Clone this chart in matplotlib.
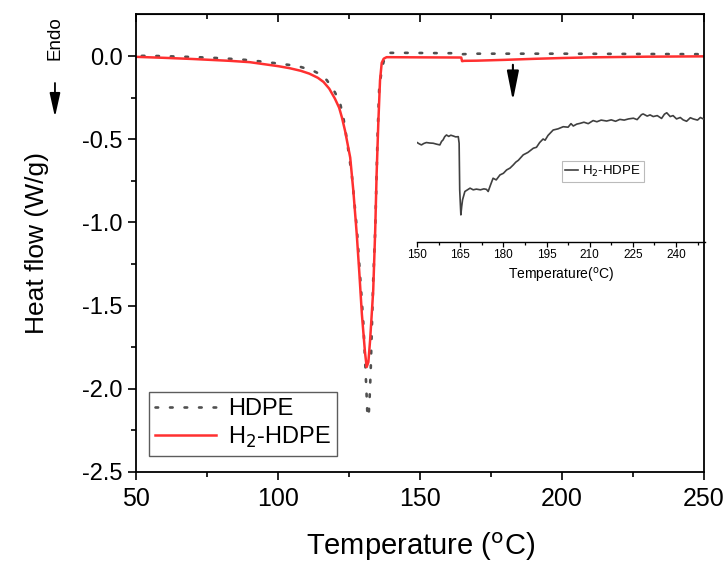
import numpy as np
import matplotlib
matplotlib.use("Agg")
import matplotlib.pyplot as plt

plt.rcParams['font.family'] = ['Liberation Sans', 'DejaVu Sans']
plt.rcParams['axes.unicode_minus'] = False

# main DSC curves (temperature in degC, heat flow in W/g)
hdpe_t = [52, 55, 60, 70, 80, 90, 100, 105, 108, 112, 115, 117.2, 120, 121.8, 123,
          124.2, 126, 127.7, 129, 130, 130.7, 131.2, 131.5, 131.9, 132.2, 132.6, 133,
          133.5, 134.2, 135, 135.6, 136.5, 137.5, 138.7, 145, 160, 164, 165, 170, 200, 250]
hdpe_q = [0.002, 0.002, 0.0, -0.005, -0.012, -0.024, -0.044, -0.055, -0.065, -0.085,
          -0.11, -0.145, -0.217, -0.28, -0.37, -0.5, -0.72, -1.03, -1.35, -1.6, -1.85,
          -2.05, -2.17, -2.16, -2.07, -1.9, -1.65, -1.35, -1.05, -0.5, -0.2, -0.08,
          -0.01, 0.02, 0.02, 0.018, 0.018, 0.012, 0.015, 0.015, 0.012]

h2_t = [50, 60, 70, 83, 90, 100, 104, 108, 111, 114, 116, 118, 120, 121.5, 122.5,
        123.6, 125.4, 126.5, 127.7, 128.6, 129.5, 130.6, 131.2, 131.8, 132.4, 133.5,
        134.2, 134.7, 135.3, 135.9, 136.5, 137.2, 138.2, 150, 164.5, 164.8, 165.5, 170,
        180, 190, 200, 210, 230, 250]
h2_q = [-0.004, -0.01, -0.017, -0.028, -0.036, -0.06, -0.072, -0.088, -0.105, -0.13,
        -0.155, -0.195, -0.255, -0.31, -0.37, -0.45, -0.61, -0.81, -1.07, -1.3, -1.55,
        -1.78, -1.87, -1.84, -1.71, -1.41, -1.05, -0.71, -0.4, -0.145, -0.04, -0.015,
        -0.006, -0.007, -0.008, -0.03, -0.028, -0.027, -0.022, -0.016, -0.011,
        -0.007, -0.003, -0.001]

# inset: H2-HDPE zoomed in, 150-250 degC
ins_t = [150.0, 150.8, 151.5, 152.3, 153.2, 154.4, 155.6, 156.8, 157.9, 158.5, 159.0,
         159.6, 160.2, 161.0, 161.7, 162.5, 163.4, 164.3, 164.6, 164.8, 165.2, 165.5,
         165.8, 166.6, 167.5, 168.4, 169.5, 170.6, 172.0, 173.2, 174.1, 174.7, 175.5,
         176.4, 177.5, 178.8, 180.0, 181.1, 182.3, 183.4, 184.3, 185.2, 186.9, 188.5,
         190.4, 191.5, 192.6, 193.8, 194.5, 195.5, 197.3, 199.0, 200.8, 202.5, 203.5,
         204.3, 205.5, 206.6, 208.0, 209.5, 211.2, 212.5, 214.0, 215.9, 217.5, 219.0,
         220.5, 222.0, 223.5, 225.2, 226.5, 228.0, 228.6, 230.0, 231.0, 232.1, 233.5,
         235.0, 236.0, 236.8, 238.0, 239.0, 240.2, 241.5, 242.5, 243.7, 245.0, 246.0,
         247.5, 248.5, 249.5]
ins_q = [-0.0180, -0.0186, -0.0190, -0.0184, -0.0180, -0.0182, -0.0183, -0.0187,
         -0.0190, -0.0175, -0.0169, -0.0155, -0.0148, -0.0154, -0.0149, -0.0152,
         -0.0156, -0.0155, -0.0183, -0.0380, -0.0486, -0.0450, -0.0422, -0.0387,
         -0.0380, -0.0373, -0.0380, -0.0377, -0.0380, -0.0376, -0.0378, -0.0387,
         -0.0360, -0.0331, -0.0338, -0.0317, -0.0310, -0.0296, -0.0288, -0.0275,
         -0.0263, -0.0255, -0.0232, -0.0222, -0.0204, -0.0200, -0.0180, -0.0165,
         -0.0170, -0.0150, -0.0127, -0.0122, -0.0113, -0.0115, -0.0100, -0.0110,
         -0.0102, -0.0099, -0.0094, -0.0100, -0.0087, -0.0092, -0.0085, -0.0089,
         -0.0084, -0.0090, -0.0082, -0.0085, -0.0080, -0.0077, -0.0083, -0.0062,
         -0.0059, -0.0068, -0.0063, -0.0070, -0.0066, -0.0078, -0.0060, -0.0054,
         -0.0070, -0.0066, -0.0080, -0.0074, -0.0084, -0.0090, -0.0075, -0.0080,
         -0.0085, -0.0074, -0.0080]

fig = plt.figure(figsize=(7.28, 5.65), dpi=100)
ax = fig.add_axes([0.187, 0.165, 0.780, 0.810])

ax.plot(hdpe_t, hdpe_q, color='#505050', lw=1.9, ls=(0, (1, 4.5)),
        dash_capstyle='round', label='HDPE')
ax.plot(h2_t, h2_q, color='#ff3030', lw=1.8, label='H$_2$-HDPE')

ax.set_xlim(50, 250)
ax.set_ylim(-2.5, 0.253)
ax.set_xticks([50, 100, 150, 200, 250])
ax.set_xticks([75, 125, 175, 225], minor=True)
ax.set_yticks([0.0, -0.5, -1.0, -1.5, -2.0, -2.5])
ax.set_yticks([-0.25, -0.75, -1.25, -1.75, -2.25], minor=True)
ax.set_yticklabels(['0.0', '-0.5', '-1.0', '-1.5', '-2.0', '-2.5'])
ax.tick_params(axis='x', which='both', direction='out', labelsize=18, pad=5)
ax.tick_params(axis='y', which='both', direction='out', labelsize=17)
ax.tick_params(which='major', length=6, width=1.2)
ax.tick_params(which='minor', length=3.5, width=1.2)
for s in ax.spines.values():
    s.set_linewidth(1.3)

# top mirrored ticks pointing inward
top = ax.secondary_xaxis('top')
top.set_xticks([50, 100, 150, 200, 250])
top.set_xticks([75, 125, 175, 225], minor=True)
top.tick_params(which='both', direction='in', labeltop=False, width=1.2)
top.tick_params(which='major', length=6)
top.tick_params(which='minor', length=3.5)
top.set_xticklabels([])

ax.set_xlabel('Temperature ($^{\\rm o}$C)', fontsize=21, labelpad=14)
ax.set_ylabel('Heat flow (W/g)', fontsize=19, labelpad=24)

leg = ax.legend(loc='lower left', bbox_to_anchor=(0.023, 0.035), borderaxespad=0,
                fontsize=17, frameon=True, fancybox=False, handlelength=2.6,
                handletextpad=0.5, borderpad=0.25, labelspacing=0.2)
leg.get_frame().set_edgecolor('#333333')
leg.get_frame().set_linewidth(1.0)

ax.annotate('', xy=(182.7, -0.285), xytext=(182.7, -0.035),
            arrowprops=dict(arrowstyle='-|>,head_length=1.0,head_width=0.2',
                            color='k', lw=1.5, mutation_scale=18))

# Endo marker
fig.text(0.0755, 0.932, 'Endo', rotation=90, ha='center', va='center', fontsize=13.5)
fig.patches.append(matplotlib.patches.FancyArrowPatch(
    (0.0755, 0.858), (0.0755, 0.788), transform=fig.transFigure,
    arrowstyle='-|>,head_length=0.9,head_width=0.2', color='k', lw=1.3,
    mutation_scale=16))

# inset
axi = fig.add_axes([0.573, 0.572, 0.395, 0.251])
axi.patch.set_alpha(0)
axi.plot(ins_t, ins_q, color='#404040', lw=1.2, label='H$_2$-HDPE')
axi.set_xlim(150, 250)
axi.set_ylim(-0.06, 0.0)
axi.set_xticks([150, 165, 180, 195, 210, 225, 240])
axi.set_xticks(np.arange(157.5, 250, 15), minor=True)
axi.set_yticks([])
for side in ['left', 'top', 'right']:
    axi.spines[side].set_visible(False)
axi.spines['bottom'].set_linewidth(1.0)
axi.tick_params(axis='x', which='major', length=3.5, width=0.9, labelsize=8.5, pad=2)
axi.tick_params(axis='x', which='minor', length=2, width=0.9)
axi.set_xlabel('Temperature($^{\\rm o}$C)', fontsize=10, labelpad=3)
li = axi.legend(loc='lower left', bbox_to_anchor=(0.503, 0.42), borderaxespad=0,
                fontsize=9.5, frameon=True, fancybox=False, handlelength=1.0,
                handletextpad=0.3, borderpad=0.25)
li.get_frame().set_edgecolor('#aaaaaa')
li.get_frame().set_linewidth(0.8)

fig.savefig('out.png', dpi=100)
